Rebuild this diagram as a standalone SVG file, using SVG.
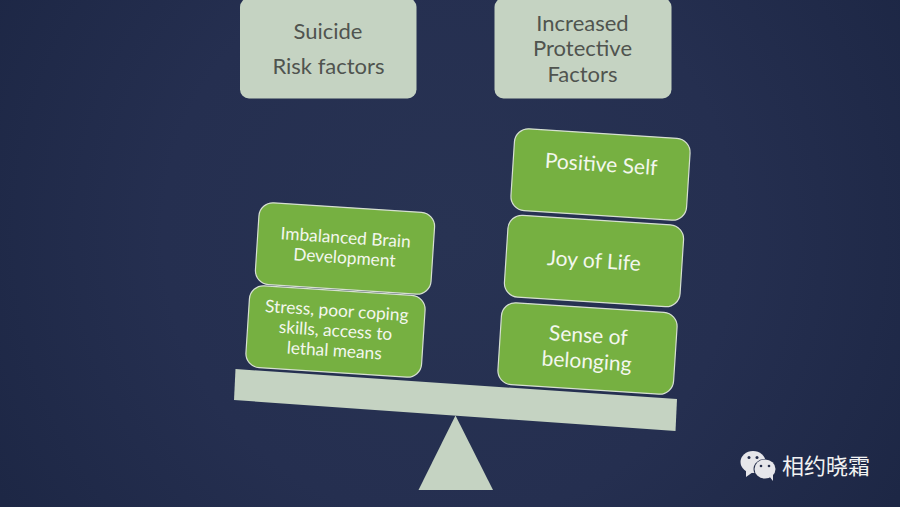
<svg xmlns="http://www.w3.org/2000/svg" width="900" height="507" viewBox="0 0 900 507">
<style>
.hdr{fill:#c5d3c2}
.hl{font-family:"Lato","Open Sans",sans-serif;font-size:22px;fill:#50544f;text-anchor:middle}
.g{fill:#76b041;stroke:#d6dfd2;stroke-width:1.2}
.t{font-family:"Lato","Open Sans",sans-serif;fill:#f3f7ee;text-anchor:middle}
.bal{fill:#c5d3c2}
.wc{fill:#e6e6ea}
.eye{fill:#262f4c}
</style>
<defs>
<radialGradient id="bg" gradientUnits="userSpaceOnUse" cx="450" cy="235" r="520">
<stop offset="0" stop-color="#283353"/>
<stop offset="0.55" stop-color="#252f50"/>
<stop offset="1" stop-color="#1d2745"/>
</radialGradient>
</defs>
<rect width="900" height="507" fill="url(#bg)"/>
<g id="header-risk">
<rect class="hdr" x="240" y="-2" width="176.500" height="100.500" rx="9"/>
<text class="hl" x="328" y="38.500">Suicide</text>
<text class="hl" x="328.500" y="73.500">Risk factors</text>
</g>
<g id="header-protective">
<rect class="hdr" x="494.500" y="-2" width="177" height="100.500" rx="9"/>
<text class="hl" x="582.500" y="30.500">Increased</text>
<text class="hl" x="582.500" y="56">Protective</text>
<text class="hl" x="582.500" y="81.500">Factors</text>
</g>
<g id="beam"><polygon class="bal" points="235.500,369 677,399 675.500,431 234,400"/></g>
<g id="fulcrum"><polygon class="bal" points="455.500,415.500 493,490 418.500,490"/></g>
<g id="positive-self" transform="translate(600.500 174.500) rotate(3.700)">
<rect class="g" x="-88" y="-41" width="176" height="82" rx="14"/>
<text class="t" font-size="21" x="0" y="-3">Positive Self</text>
</g>
<g id="joy-of-life" transform="translate(594 261) rotate(3.700)">
<rect class="g" x="-88" y="-41" width="176" height="82" rx="14"/>
<text class="t" font-size="21" x="0" y="7">Joy of Life</text>
</g>
<g id="sense-of-belonging" transform="translate(587.500 348.500) rotate(3.700)">
<rect class="g" x="-88" y="-41" width="176" height="82" rx="14"/>
<text class="t" font-size="21" x="0" y="-6">Sense of</text>
<text class="t" font-size="21" x="0" y="20">belonging</text>
</g>
<g id="imbalanced-brain" transform="translate(345 248.500) rotate(3.700)">
<rect class="g" x="-88" y="-41" width="176" height="82" rx="14"/>
<text class="t" font-size="17.300" x="0" y="-5">Imbalanced Brain</text>
<text class="t" font-size="17.300" x="0" y="15">Development</text>
</g>
<g id="stress" transform="translate(335.500 331.500) rotate(3.700)">
<rect class="g" x="-88" y="-41" width="176" height="82" rx="14"/>
<text class="t" font-size="17.300" x="0" y="-15">Stress, poor coping</text>
<text class="t" font-size="17.300" x="0" y="5">skills, access to</text>
<text class="t" font-size="17.300" x="0" y="25">lethal means</text>
</g>
<g id="watermark">
<ellipse class="wc" cx="753" cy="462" rx="12.500" ry="11"/>
<polygon class="wc" points="746,470 746,477 753,472"/>
<ellipse cx="765" cy="469" rx="11.500" ry="10" fill="#262f4c"/>
<ellipse class="wc" cx="765" cy="469" rx="10.500" ry="9.500"/>
<polygon class="wc" points="769,476 773,481 773,474"/>
<circle class="eye" cx="749" cy="457.500" r="1.500"/>
<circle class="eye" cx="757" cy="457.500" r="1.500"/>
<circle class="eye" cx="761" cy="466" r="1.300"/>
<circle class="eye" cx="769" cy="466" r="1.300"/>
<text x="782" y="474" font-family="'Noto Sans CJK SC',sans-serif" font-size="22" fill="#f2f2f2">相约晓霜</text>
</g>
</svg>
